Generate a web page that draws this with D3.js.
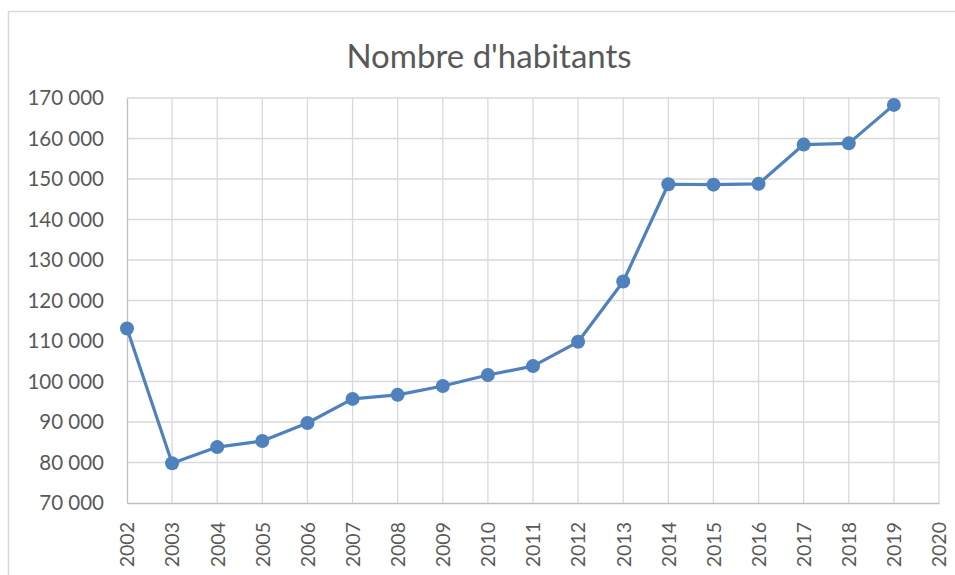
<!DOCTYPE html>
<html>
<head>
<meta charset="utf-8">
<script src="https://cdn.jsdelivr.net/npm/d3@7"></script>
<style>
  body { margin: 0; background: #fff; }
  text { font-family: Lato, "Open Sans", sans-serif; fill: #595959; }
</style>
</head>
<body>
<svg id="chart" width="955" height="575"></svg>
<script>
// Data
const years = [2002, 2003, 2004, 2005, 2006, 2007, 2008, 2009, 2010, 2011,
               2012, 2013, 2014, 2015, 2016, 2017, 2018, 2019];
const habitants = [113100, 79800, 83800, 85300, 89750, 95700, 96700, 98900, 101600, 103800,
                   109800, 124700, 148700, 148600, 148800, 158500, 158800, 168300];
const xTicks = d3.range(2002, 2021);
const yTicks = d3.range(70000, 170001, 10000);

const svg = d3.select("#chart");
const margin = {top: 98, right: 16, bottom: 72, left: 127};
const width = 955 - margin.left - margin.right;
const height = 575 - margin.top - margin.bottom;

// chart frame
svg.append("path")
    .attr("d", "M8.5,575 V11.5 H955")
    .attr("fill", "none")
    .attr("stroke", "#d9d9d9")
    .attr("stroke-width", 1.5);

// title
svg.append("text")
    .attr("x", 489)
    .attr("y", 68)
    .attr("text-anchor", "middle")
    .style("font-size", "33px")
    .text("Nombre d'habitants");

const g = svg.append("g")
    .attr("transform", "translate(" + margin.left + "," + margin.top + ")");

const x = d3.scaleLinear().domain([2002, 2020]).range([0, width]);
const y = d3.scaleLinear().domain([70000, 170000]).range([height, 0]);

// gridlines
g.selectAll(".hgrid")
    .data(yTicks.slice(1))
    .enter().append("line")
    .attr("x1", 0).attr("x2", width)
    .attr("y1", d => y(d)).attr("y2", d => y(d))
    .attr("stroke", "#d9d9d9").attr("stroke-width", 1.3);

g.selectAll(".vgrid")
    .data(xTicks.slice(1))
    .enter().append("line")
    .attr("x1", d => x(d)).attr("x2", d => x(d))
    .attr("y1", 0).attr("y2", height)
    .attr("stroke", "#d9d9d9").attr("stroke-width", 1.3);

// axes
const fmt = d => d3.format(",")(d).replace(/,/g, "\u00a0");

const yAxis = g.append("g")
    .call(d3.axisLeft(y).tickValues(yTicks).tickSize(0).tickPadding(23).tickFormat(fmt));
yAxis.select(".domain").attr("stroke", "#bfbfbf").attr("stroke-width", 1.3);
yAxis.selectAll("text").style("font-size", "20.5px").attr("fill", "#595959")
    .style("font-family", "Lato, sans-serif");

const xAxis = g.append("g")
    .attr("transform", "translate(0," + height + ")")
    .call(d3.axisBottom(x).tickValues(xTicks).tickSize(0).tickFormat(d3.format("d")));
xAxis.select(".domain").attr("stroke", "#bfbfbf").attr("stroke-width", 1.3);
xAxis.selectAll("text")
    .style("font-size", "19.5px").attr("fill", "#595959")
    .style("font-family", "Lato, sans-serif")
    .attr("text-anchor", "end")
    .attr("transform", "rotate(-90)")
    .attr("x", -19)
    .attr("y", 0)
    .attr("dy", "0.35em");

// line
const line = d3.line()
    .x((d, i) => x(years[i]))
    .y(d => y(d));

g.append("path")
    .datum(habitants)
    .attr("fill", "none")
    .attr("stroke", "#4f81bd")
    .attr("stroke-width", 3.2)
    .attr("stroke-linejoin", "round")
    .attr("d", line);

g.selectAll(".dot")
    .data(habitants)
    .enter().append("circle")
    .attr("cx", (d, i) => x(years[i]))
    .attr("cy", d => y(d))
    .attr("r", 7)
    .attr("fill", "#4f81bd");
</script>
</body>
</html>
